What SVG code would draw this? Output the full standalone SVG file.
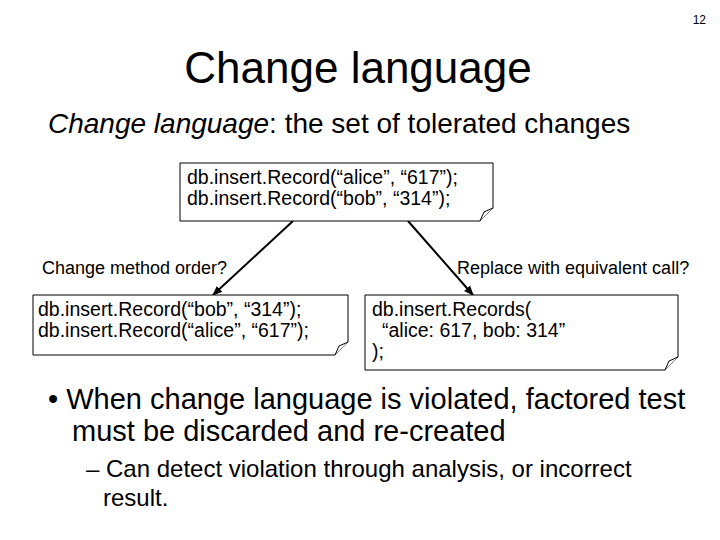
<svg xmlns="http://www.w3.org/2000/svg" width="720" height="540" viewBox="0 0 720 540">
<defs><marker id="ah" markerWidth="10" markerHeight="10" refX="9" refY="5" orient="auto" markerUnits="userSpaceOnUse"><path d="M0,1 L10,5 L0,9 z" fill="#000"/></marker></defs>
<style>text{font-family:"Liberation Sans",Arial,sans-serif;fill:#000}.c{font-size:19.5px}.l{font-size:18px}.n{fill:#fff;stroke:#000;stroke-width:1}</style>
<rect width="720" height="540" fill="#fff"/>
<text x="706" y="24" font-size="12" text-anchor="end">12</text>
<text x="358" y="83" font-size="44" text-anchor="middle">Change language</text>
<text x="48" y="133" font-size="28"><tspan font-style="italic">Change language</tspan>: the set of tolerated changes</text>
<g id="connectors" stroke="#000" stroke-width="2" fill="none">
<line x1="293" y1="221" x2="213" y2="295" marker-end="url(#ah)"/>
<line x1="408" y1="221" x2="473" y2="295" marker-end="url(#ah)"/>
</g>
<g id="top"><path class="n" d="M180,163 H493 V208 L480,221 H180 Z"/><path class="n" d="M480,221 L484,212 L493,208" fill="none"/>
<text class="c" x="187" y="184">db.insert.Record(“alice”, “617”);</text><text class="c" x="187" y="205">db.insert.Record(“bob”, “314”);</text></g>
<text class="l" x="42" y="274">Change method order?</text>
<text class="l" x="457" y="274">Replace with equivalent call?</text>
<g id="left"><path class="n" d="M33,295 H348 V342 L335,355 H33 Z"/><path class="n" d="M335,355 L339,346 L348,342" fill="none"/>
<text class="c" x="38" y="316">db.insert.Record(“bob”, “314”);</text><text class="c" x="38" y="337">db.insert.Record(“alice”, “617”);</text></g>
<g id="right"><path class="n" d="M365,295 H678 V357 L665,370 H365 Z"/><path class="n" d="M665,370 L669,361 L678,357" fill="none"/>
<text class="c" x="372" y="316">db.insert.Records(</text><text class="c" x="382" y="337">“alice: 617, bob: 314”</text><text class="c" x="372" y="358">);</text></g>
<text x="48" y="409" font-size="29">• When change language is violated, factored test</text>
<text x="72" y="441" font-size="29">must be discarded and re-created</text>
<text x="86" y="477" font-size="24">– Can detect violation through analysis, or incorrect</text>
<text x="103" y="506" font-size="24">result.</text>
</svg>
